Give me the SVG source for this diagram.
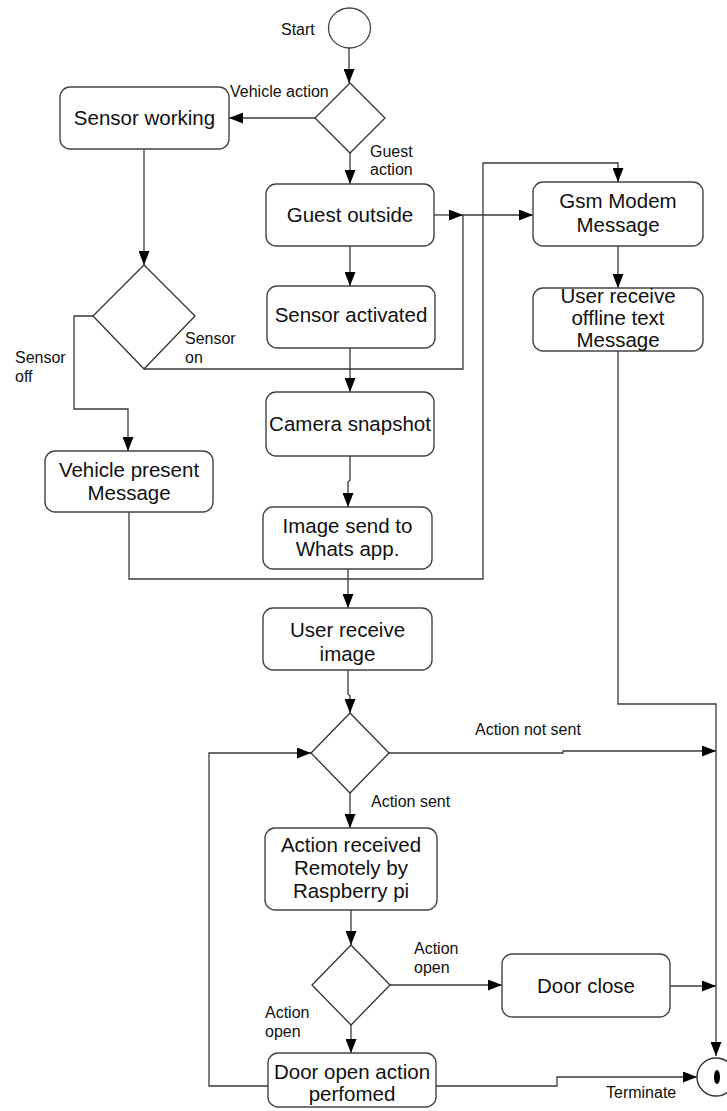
<svg xmlns="http://www.w3.org/2000/svg" width="727" height="1111" viewBox="0 0 727 1111">
<defs>
<marker id="ah" markerUnits="userSpaceOnUse" markerWidth="14" markerHeight="11" refX="14" refY="5.5" orient="auto">
<path d="M0,0 L14,5.5 L0,11 z" fill="#000"/>
</marker>
</defs>
<style>
.box{fill:#fff;stroke:#444;stroke-width:1.4}
.dia{fill:#fff;stroke:#333;stroke-width:1.3}
.t{font-family:"Liberation Sans",Arial,sans-serif;font-size:20.5px;fill:#111;text-anchor:middle}
.l{font-family:"Liberation Sans",Arial,sans-serif;font-size:16px;fill:#111}
.c{fill:none;stroke:#3a3a3a;stroke-width:1.3}
.ca{fill:none;stroke:#3a3a3a;stroke-width:1.3;marker-end:url(#ah)}
</style>
<rect width="727" height="1111" fill="#fff"/>
<g id="connectors">
<path class="ca" d="M349,48 L349,83"/>
<path class="ca" d="M315,118 L229,118"/>
<path class="ca" d="M350,153 L350,184"/>
<path class="ca" d="M144,149 L144,265"/>
<path class="ca" d="M93,316 L74,316 L74,409 L128,409 L128,451"/>
<path class="c" d="M144,369 L463,369 L463,215"/>
<path class="ca" d="M434,215 L463,215"/>
<path class="ca" d="M463,215 L533,215"/>
<path class="ca" d="M350,246 L350,286"/>
<path class="ca" d="M350,348 L350,392"/>
<path class="ca" d="M350,456 L350,480 L348,482 L348,507"/>
<path class="ca" d="M348,569 L348,608"/>
<path class="ca" d="M129,512 L129,579 L483,579 L483,163 L618,163 L618,182"/>
<path class="ca" d="M618,246 L618,288"/>
<path class="ca" d="M618,351 L618,704 L716,704 L716,1056"/>
<path class="ca" d="M348,670 L348,694 L350,696 L350,713"/>
<path class="ca" d="M389,753 L563,753 L563,751 L716,751"/>
<path class="ca" d="M350,793 L350,828"/>
<path class="ca" d="M351,910 L351,945"/>
<path class="ca" d="M390,985 L502,985"/>
<path class="ca" d="M670,986 L716,986"/>
<path class="ca" d="M351,1025 L351,1053"/>
<path class="ca" d="M268,1086 L209,1086 L209,753 L311,753"/>
<path class="ca" d="M436,1086 L557,1086 L557,1077 L697,1077"/>
</g>
<g id="start">
<ellipse cx="349.5" cy="28" rx="21" ry="20" fill="#fff" stroke="#444" stroke-width="1.3"/>
<text class="l" x="281" y="35">Start</text>
</g>
<g id="decision1">
<polygon class="dia" points="350,83 385,118 350,153 315,118"/>
<text class="l" x="230" y="97">Vehicle action</text>
<text class="l" x="370" y="157">Guest</text>
<text class="l" x="370" y="175">action</text>
</g>
<g id="sensor-working">
<rect class="box" x="60" y="87" width="169" height="62" rx="10"/>
<text class="t" x="144.5" y="125">Sensor working</text>
</g>
<g id="decision2">
<polygon class="dia" points="144,265 195,316 144,369 93,316"/>
<text class="l" x="185" y="344">Sensor</text>
<text class="l" x="185" y="363">on</text>
<text class="l" x="15" y="363">Sensor</text>
<text class="l" x="15" y="382">off</text>
</g>
<g id="vehicle-present">
<rect class="box" x="45" y="451" width="168" height="61" rx="10"/>
<text class="t" x="129" y="477">Vehicle present</text>
<text class="t" x="129" y="500">Message</text>
</g>
<g id="guest-outside">
<rect class="box" x="266" y="184" width="168" height="62" rx="10"/>
<text class="t" x="350" y="222">Guest outside</text>
</g>
<g id="sensor-activated">
<rect class="box" x="267" y="286" width="168" height="62" rx="10"/>
<text class="t" x="351" y="322">Sensor activated</text>
</g>
<g id="camera-snapshot">
<rect class="box" x="266" y="392" width="168" height="64" rx="10"/>
<text class="t" x="350" y="431">Camera snapshot</text>
</g>
<g id="image-send">
<rect class="box" x="263" y="507" width="169" height="62" rx="10"/>
<text class="t" x="347.5" y="533">Image send to</text>
<text class="t" x="347.5" y="556">Whats app.</text>
</g>
<g id="gsm-modem">
<rect class="box" x="533" y="182" width="170" height="64" rx="10"/>
<text class="t" x="618" y="208">Gsm Modem</text>
<text class="t" x="618" y="232">Message</text>
</g>
<g id="user-offline">
<rect class="box" x="533" y="288" width="170" height="63" rx="10"/>
<text class="t" x="618" y="303">User receive</text>
<text class="t" x="618" y="325">offline text</text>
<text class="t" x="618" y="347">Message</text>
</g>
<g id="user-receive-image">
<rect class="box" x="263" y="608" width="169" height="62" rx="10"/>
<text class="t" x="347.5" y="637">User receive</text>
<text class="t" x="347.5" y="661">image</text>
</g>
<g id="decision3">
<polygon class="dia" points="350,713 389,753 350,793 311,753"/>
<text class="l" x="475" y="735">Action not sent</text>
<text class="l" x="371" y="807">Action sent</text>
</g>
<g id="action-received">
<rect class="box" x="265" y="828" width="172" height="82" rx="10"/>
<text class="t" x="351" y="852">Action received</text>
<text class="t" x="351" y="875">Remotely by</text>
<text class="t" x="351" y="898">Raspberry pi</text>
</g>
<g id="decision4">
<polygon class="dia" points="351,945 390,985 351,1025 312,985"/>
<text class="l" x="414" y="954">Action</text>
<text class="l" x="414" y="973">open</text>
<text class="l" x="265" y="1018">Action</text>
<text class="l" x="265" y="1037">open</text>
</g>
<g id="door-close">
<rect class="box" x="502" y="954" width="168" height="63" rx="10"/>
<text class="t" x="586" y="993">Door close</text>
</g>
<g id="door-open">
<rect class="box" x="268" y="1053" width="168" height="54" rx="10"/>
<text class="t" x="352" y="1079">Door open action</text>
<text class="t" x="352" y="1101">perfomed</text>
</g>
<g id="terminate">
<circle cx="716" cy="1077" r="19" fill="#fff" stroke="#333" stroke-width="1.4"/>
<ellipse cx="717" cy="1077" rx="3" ry="7" fill="#000"/>
<text class="l" x="606" y="1098">Terminate</text>
</g>
</svg>
